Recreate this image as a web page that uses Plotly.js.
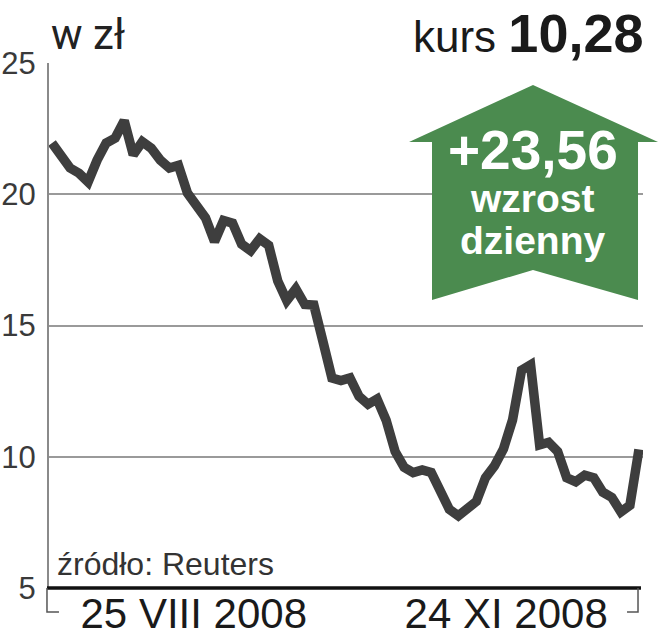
<!DOCTYPE html>
<html>
<head>
<meta charset="utf-8">
<script src="https://cdn.plot.ly/plotly-3.0.1.min.js"></script>
<style>html,body{margin:0;padding:0;background:#fff}#chart{width:660px;height:640px}</style>
</head>
<body>
<div id="chart"></div>
<script>
// Trading-day index (25 VIII 2008 ... 24 XI 2008 window)
const days = Array.from({length: 66}, (_, i) => i);
// Closing price, zł
const prices = [
  21.95, 21.4, 21.0, 20.8, 20.47, 21.3, 21.95, 22.14, 22.8, 21.5,
  22.0, 21.75, 21.3, 21.0, 21.1, 20.05, 19.55, 19.1, 18.2, 19.0,
  18.9, 18.1, 17.85, 18.3, 18.05, 16.7, 15.95, 16.4, 15.8, 15.78,
  14.4, 13.0, 12.9, 13.0, 12.3, 12.0, 12.2, 11.4, 10.2, 9.6,
  9.4, 9.5, 9.4, 8.75, 8.0, 7.75, 8.0, 8.3, 9.2, 9.65,
  10.3, 11.4, 13.3, 13.5, 10.45, 10.55, 10.2, 9.2, 9.05, 9.3,
  9.2, 8.65, 8.45, 7.9, 8.15, 10.28
];
const xTickVals = [15.7, 50.3];
const xTickText = ['25 VIII 2008', '24 XI 2008'];
const yTickVals = [5, 10, 15, 20, 25];
const yTickText = ['5', '10', '15', '20', '25'];
const unitLabel = 'w zł';
const lastPrice = '10,28';
const dailyChange = '+23,56';
const changeLabel = ['wzrost', 'dzienny'];
const sourceText = 'źródło: Reuters';

const sans = 'Liberation Sans, Arial, sans-serif';
const green = '#4b8b4f';

// arrow in paper coordinates
const arrowPath = 'M 0.6061 0.8495 L 0.8148 0.9581 L 1.0253 0.8495 L 0.9916 0.8495 L 0.9916 0.5486 L 0.8148 0.6057 L 0.6448 0.5486 L 0.6448 0.8495 Z';

const trace = {
  x: days, y: prices, type: 'scatter', mode: 'lines',
  line: {color: '#3e3e3e', width: 9.5},
  hoverinfo: 'skip'
};

const layout = {
  width: 660, height: 640,
  margin: {l: 49, r: 17, t: 63, b: 52},
  paper_bgcolor: '#fff', plot_bgcolor: '#fff',
  showlegend: false,
  xaxis: {
    range: [-0.33, 65.45], fixedrange: true,
    showgrid: false, zeroline: false,
    showline: false,
    tickvals: xTickVals, ticktext: xTickText,
    ticks: '', ticklabelstandoff: -3,
    tickfont: {family: sans, size: 42, color: '#1a1a1a'}
  },
  yaxis: {
    range: [5, 25], fixedrange: true,
    tickvals: yTickVals, ticktext: yTickText,
    showgrid: true, gridcolor: '#9a9a9a', gridwidth: 2,
    zeroline: false,
    showline: true, linecolor: '#8a8a8a', linewidth: 2,
    ticks: '', ticklabelstandoff: 5,
    tickfont: {family: sans, size: 31, color: '#3a3a3a'}
  },
  shapes: [
    {type: 'line', xref: 'paper', yref: 'paper', x0: -0.0034, x1: 0.9966, y0: 0, y1: 0,
     line: {color: '#111', width: 3.5}},
    {type: 'path', xref: 'paper', yref: 'paper',
     path: 'M -0.0034 0 L -0.0034 -0.0457 L 0.0168 -0.0457', line: {color: '#555', width: 1.5}},
    {type: 'path', xref: 'paper', yref: 'paper',
     path: 'M 0.9916 0 L 0.9916 -0.0457 L 0.9731 -0.0457', line: {color: '#555', width: 1.5}},
    {type: 'path', xref: 'paper', yref: 'paper', path: arrowPath,
     fillcolor: green, line: {width: 0}, layer: 'above'}
  ],
  annotations: [
    {xref: 'paper', yref: 'paper', x: 0.0, y: 1.055, xanchor: 'left', yanchor: 'middle',
     text: unitLabel, showarrow: false,
     font: {family: 'Roboto, ' + sans, size: 42, color: '#222', weight: 400}},
    {xref: 'paper', yref: 'paper', x: 1.005, y: 1.058, xanchor: 'right', yanchor: 'middle',
     text: 'kurs <b><span style="font-size:54px">' + lastPrice + '</span></b>', showarrow: false,
     font: {family: sans, size: 44, color: '#1a1a1a'}},
    {xref: 'paper', yref: 'paper', x: 0.8148, y: 0.834, xanchor: 'center', yanchor: 'middle',
     text: '<b>' + dailyChange + '</b>', showarrow: false,
     font: {family: sans, size: 55, color: '#fff'}},
    {xref: 'paper', yref: 'paper', x: 0.8148, y: 0.742, xanchor: 'center', yanchor: 'middle',
     text: '<b>' + changeLabel[0] + '</b>', showarrow: false,
     font: {family: sans, size: 39, color: '#fff'}},
    {xref: 'paper', yref: 'paper', x: 0.8148, y: 0.662, xanchor: 'center', yanchor: 'middle',
     text: '<b>' + changeLabel[1] + '</b>', showarrow: false,
     font: {family: sans, size: 39, color: '#fff'}},
    {xref: 'paper', yref: 'paper', x: 0.01, y: 0.046, xanchor: 'left', yanchor: 'middle',
     text: sourceText, showarrow: false,
     font: {family: sans, size: 32, color: '#333'}}
  ]
};

Plotly.newPlot('chart', [trace], layout, {displayModeBar: false, staticPlot: true});
</script>
</body>
</html>
